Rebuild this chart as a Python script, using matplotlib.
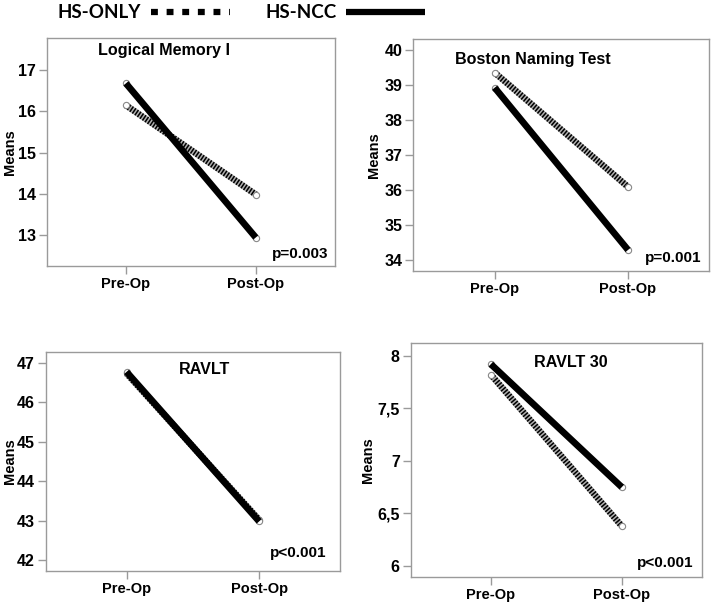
import numpy as np
import matplotlib.pyplot as plt
from matplotlib.lines import Line2D

# data
timepoints = ["Pre-Op", "Post-Op"]
titles = ["Logical Memory I", "Boston Naming Test", "RAVLT", "RAVLT 30"]
p_values = ["p=0.003", "p=0.001", "p<0.001", "p<0.001"]
hs_only = [[16.15, 13.99], [39.35, 36.09], [46.73, 43.02], [7.82, 6.38]]
hs_ncc = [[16.68, 12.95], [38.92, 34.29], [46.77, 42.98], [7.92, 6.75]]
y_ticks = [[13, 14, 15, 16, 17], [34, 35, 36, 37, 38, 39, 40],
           [42, 43, 44, 45, 46, 47], [6, 6.5, 7, 7.5, 8]]
y_ticklabels = [None, None, None, ["6", "6,5", "7", "7,5", "8"]]
y_limits = [(12.26, 17.77), (33.69, 40.31), (41.73, 47.28), (5.898, 8.118)]

# layout of the four panels (figure fractions)
W, H = 714, 611
positions = [[0.0654, 0.5646, 0.4038, 0.3727],
             [0.5789, 0.5565, 0.4146, 0.3797],
             [0.0640, 0.0659, 0.4122, 0.3584],
             [0.5756, 0.0561, 0.4071, 0.3820]]
ylabel_px = [17, 381, 17, 375]  # right edge of the rotated "Means" label
title_pos = [(0.407, 0.946), (0.405, 0.912), (0.541, 0.92), (0.55, 0.917)]
p_pos = [(0.978, 0.053), (0.974, 0.055), (0.955, 0.079), (0.971, 0.057)]

font = "Liberation Sans"
spine_grey = "#9a9a9a"

fig = plt.figure(figsize=(W / 100, H / 100), dpi=100)
x = np.arange(len(timepoints))


def striped_line(ax, xs, ys):
    ax.plot(xs, ys, color="#b0b0b0", lw=4.6, solid_capstyle="butt", zorder=2)
    ax.plot(xs, ys, color="black", lw=4.6, linestyle=(0, (0.24, 0.24)),
            dash_capstyle="butt", zorder=2.1)
    ax.plot(xs, ys, linestyle="none", marker="o", ms=4.5, mfc="white",
            mec="#888888", mew=0.8, zorder=2.2)


for i in range(4):
    ax = fig.add_axes(positions[i])
    striped_line(ax, x, hs_only[i])
    ax.plot(x, hs_ncc[i], color="black", lw=4.8, solid_capstyle="butt", zorder=3)
    ax.plot(x, hs_ncc[i], linestyle="none", marker="o", ms=4.5, mfc="white",
            mec="#888888", mew=0.8, zorder=2.9)

    ax.set_xlim(-0.61, 1.61)
    ax.set_ylim(*y_limits[i])
    ax.set_xticks(x)
    ax.set_xticklabels(timepoints, fontsize=10.5, fontweight="bold", family=font)
    ax.set_yticks(y_ticks[i])
    if y_ticklabels[i] is not None:
        ax.set_yticklabels(y_ticklabels[i])
    for lab in ax.get_yticklabels():
        lab.set_fontsize(11.5)
        lab.set_fontweight("bold")
        lab.set_family(font)
    ax.tick_params(direction="out", length=6, color=spine_grey, width=1, pad=2)
    for sp in ax.spines.values():
        sp.set_color(spine_grey)
        sp.set_linewidth(1)
    ax.set_ylabel("Means", fontsize=10.5, fontweight="bold", family=font)
    left_px = positions[i][0] * W
    width_px = positions[i][2] * W
    ax.yaxis.set_label_coords((ylabel_px[i] - left_px) / width_px, 0.5)

    ax.text(*title_pos[i], titles[i], transform=ax.transAxes, ha="center",
            va="center", fontsize=11.6, fontweight="bold", family=font)
    ax.text(*p_pos[i], p_values[i], transform=ax.transAxes, ha="right",
            va="center", fontsize=11, fontweight="bold", family=font)

# legend at the top
handles = [Line2D([], [], color="black", lw=4.5, linestyle=(0, (1.1, 1.4)),
                  dash_capstyle="butt"),
           Line2D([], [], color="black", lw=4.5, solid_capstyle="butt")]
fig.legend(handles, ["HS-ONLY", "HS-NCC"], ncol=2, markerfirst=False,
           frameon=False, loc="center left", bbox_to_anchor=(0.081, 0.979),
           prop={"family": "Lato", "weight": "bold", "size": 13.5},
           handlelength=4.25, handletextpad=0.5, columnspacing=1.85,
           borderaxespad=0, borderpad=0)

fig.savefig("out.png", dpi=100)
